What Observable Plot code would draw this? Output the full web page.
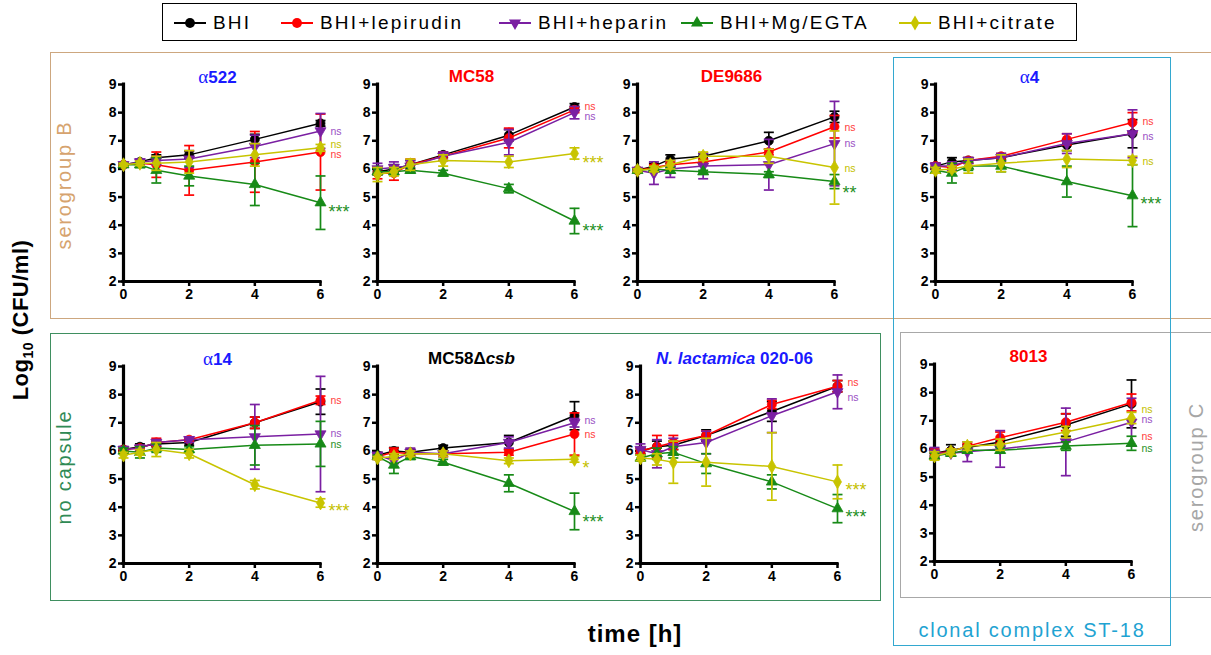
<!DOCTYPE html>
<html><head><meta charset="utf-8">
<script src="https://cdn.jsdelivr.net/npm/d3@7"></script>
<script src="https://cdn.jsdelivr.net/npm/@observablehq/plot@0.6"></script>
<style>
body{margin:0;background:#fff;font-family:"Liberation Sans",Arial,sans-serif;}
#fig{position:relative;width:1211px;height:655px;overflow:hidden;background:#fff;}
.abs{position:absolute;}
.box{position:absolute;box-sizing:border-box;border-style:solid;border-width:1.5px;}
.vlab{position:absolute;white-space:nowrap;font-size:20px;letter-spacing:1.8px;transform:translate(-50%,-50%) rotate(-90deg);}
.ptitle{position:absolute;width:240px;text-align:center;font-size:17px;line-height:17px;font-weight:bold;white-space:nowrap;}
.alpha{font-family:"Liberation Serif","DejaVu Serif",serif;font-weight:normal;font-size:19px;}
.panel{position:absolute;}
.panel svg{overflow:visible;}
.panel g[aria-label="x-axis tick label"] text,.panel g[aria-label="y-axis tick label"] text{font-weight:bold;}
.leg{position:absolute;left:162px;top:3px;width:915px;height:38px;box-sizing:border-box;border:1.5px solid #000;}
.legitem{position:absolute;top:0;height:35px;display:flex;align-items:center;font-size:19px;letter-spacing:2.2px;white-space:nowrap;}
</style></head><body><div id="fig"></div>
<script>
// ---------- data ----------
const times = [0, 0.5, 1, 2, 4, 6];
const seriesNames = ["BHI", "BHI+lepirudin", "BHI+heparin", "BHI+Mg/EGTA", "BHI+citrate"];
const seriesColors = ["#000000", "#ff0000", "#7a1fa2", "#178a17", "#c8c400"];
const sigColors = ["#000000", "#ff4040", "#9a50c4", "#1f8f1f", "#c4c000"];
const xTicks = [0, 2, 4, 6];
const yTicks = [2, 3, 4, 5, 6, 7, 8, 9];
const panelTitles = ["α522", "MC58", "DE9686", "α4", "α14", "MC58Δcsb", "N. lactamica 020-06", "8013"];
const titleColors = ["#1a1aff", "#ff0000", "#ff0000", "#1a1aff", "#1a1aff", "#000000", "#1a1aff", "#ff0000"];

const a522Mean = [[6.15, 6.25, 6.4, 6.5, 7.05, 7.62], [6.15, 6.2, 6.15, 5.95, 6.25, 6.6], [6.15, 6.25, 6.3, 6.35, 6.8, 7.35], [6.15, 6.15, 5.95, 5.75, 5.45, 4.8], [6.15, 6.2, 6.2, 6.25, 6.5, 6.75]];
const a522Sd = [[0.05, 0.08, 0.1, 0.12, 0.18, 0.1], [0.05, 0.08, 0.45, 0.88, 1.08, 1.35], [0.08, 0.1, 0.15, 0.3, 0.4, 0.62], [0.05, 0.1, 0.45, 0.35, 0.75, 0.95], [0.05, 0.08, 0.25, 0.4, 0.4, 0.12]];
const a522Sig = ["", "ns", "ns", "***", "ns"];
const a522SigAt = [null, 6.51, 7.33, 4.64, 6.86];

const mc58Mean = [[5.9, 6.0, 6.15, 6.5, 7.2, 8.2], [5.85, 5.85, 6.15, 6.45, 7.1, 8.1], [6.0, 6.05, 6.1, 6.45, 6.95, 8.0], [5.9, 5.9, 5.95, 5.85, 5.3, 4.15], [5.8, 5.9, 6.15, 6.3, 6.25, 6.55]];
const mc58Sd = [[0.1, 0.15, 0.15, 0.1, 0.2, 0.12], [0.2, 0.25, 0.2, 0.15, 0.35, 0.1], [0.2, 0.2, 0.2, 0.15, 0.45, 0.22], [0.1, 0.1, 0.1, 0.1, 0.15, 0.45], [0.25, 0.15, 0.2, 0.2, 0.2, 0.2]];
const mc58Sig = ["", "ns", "ns", "***", "***"];
const mc58SigAt = [null, 8.23, 7.87, 3.95, 6.38];

const de9686Mean = [[5.95, 6.1, 6.35, 6.45, 7.0, 7.85], [5.95, 6.05, 6.15, 6.25, 6.6, 7.5], [5.95, 5.85, 6.0, 6.1, 6.15, 6.9], [5.95, 6.0, 5.95, 5.9, 5.8, 5.55], [5.95, 6.0, 6.15, 6.45, 6.45, 6.05]];
const de9686Sd = [[0.05, 0.1, 0.15, 0.1, 0.3, 0.2], [0.05, 0.1, 0.1, 0.1, 0.1, 0.4], [0.05, 0.4, 0.3, 0.45, 0.9, 1.5], [0.05, 0.05, 0.1, 0.05, 0.1, 0.25], [0.05, 0.1, 0.15, 0.15, 0.25, 1.3]];
const de9686Sig = ["", "ns", "ns", "**", "ns"];
const de9686SigAt = [null, 7.48, 6.9, 5.33, 6.0];

const a4Mean = [[6.1, 6.25, 6.3, 6.4, 6.85, 7.25], [6.1, 6.05, 6.3, 6.45, 7.05, 7.65], [6.1, 6.1, 6.3, 6.4, 6.9, 7.25], [5.95, 5.85, 6.1, 6.1, 5.55, 5.05], [5.95, 6.0, 6.1, 6.2, 6.35, 6.3]];
const a4Sd = [[0.1, 0.15, 0.1, 0.1, 0.2, 0.5], [0.1, 0.1, 0.1, 0.1, 0.2, 0.35], [0.1, 0.15, 0.1, 0.15, 0.35, 0.85], [0.1, 0.35, 0.15, 0.2, 0.55, 1.1], [0.1, 0.1, 0.25, 0.3, 0.3, 0.15]];
const a4Sig = ["", "ns", "ns", "***", "ns"];
const a4SigAt = [null, 7.68, 7.14, 4.93, 6.25];

const a14Mean = [[6.05, 6.15, 6.25, 6.3, 7.0, 7.75], [6.05, 6.1, 6.3, 6.4, 7.0, 7.8], [6.05, 6.1, 6.3, 6.4, 6.5, 6.6], [6.0, 5.95, 6.1, 6.05, 6.2, 6.25], [5.85, 5.95, 6.05, 5.9, 4.8, 4.15]];
const a14Sd = [[0.1, 0.1, 0.1, 0.1, 0.2, 0.45], [0.05, 0.1, 0.15, 0.05, 0.2, 0.15], [0.1, 0.1, 0.1, 0.1, 1.15, 2.05], [0.1, 0.2, 0.15, 0.1, 0.7, 0.8], [0.1, 0.1, 0.25, 0.15, 0.15, 0.15]];
const a14Sig = ["", "ns", "ns", "ns", "***"];
const a14SigAt = [null, 7.8, 6.63, 6.24, 4.05];

const csbMean = [[5.85, 6.0, 5.95, 6.1, 6.3, 7.25], [5.8, 5.95, 5.9, 5.9, 5.95, 6.6], [5.85, 5.65, 5.95, 5.9, 6.3, 7.0], [5.8, 5.5, 5.8, 5.6, 4.85, 3.85], [5.75, 5.8, 5.9, 5.9, 5.65, 5.7]];
const csbSd = [[0.1, 0.12, 0.1, 0.1, 0.25, 0.5], [0.1, 0.15, 0.1, 0.1, 0.1, 0.75], [0.05, 0.1, 0.15, 0.1, 0.2, 0.15], [0.05, 0.3, 0.1, 0.1, 0.3, 0.65], [0.05, 0.1, 0.1, 0.1, 0.1, 0.1]];
const csbSig = ["", "ns", "ns", "***", "*"];
const csbSigAt = [null, 6.59, 7.07, 3.66, 5.56];

const nlacMean = [[6.0, 6.15, 6.2, 6.55, 7.4, 8.3], [6.0, 6.15, 6.3, 6.55, 7.65, 8.3], [6.05, 5.9, 6.15, 6.3, 7.25, 8.1], [5.75, 5.9, 5.95, 5.55, 4.9, 3.95], [5.75, 5.7, 5.6, 5.6, 5.45, 4.9]];
const nlacSd = [[0.1, 0.2, 0.15, 0.2, 0.35, 0.2], [0.1, 0.4, 0.25, 0.15, 0.15, 0.2], [0.2, 0.5, 0.3, 0.4, 0.6, 0.6], [0.1, 0.2, 0.2, 0.35, 0.25, 0.5], [0.1, 0.2, 0.75, 0.85, 1.2, 0.6]];
const nlacSig = ["", "ns", "ns", "***", "***"];
const nlacSigAt = [null, 8.41, 7.91, 3.81, 4.78];

const s8013Mean = [[5.85, 5.95, 6.05, 6.25, 6.85, 7.6], [5.85, 5.9, 6.1, 6.4, 6.95, 7.65], [5.85, 5.85, 5.9, 6.0, 6.25, 6.95], [5.75, 5.85, 5.95, 5.95, 6.1, 6.2], [5.75, 5.9, 6.1, 6.15, 6.6, 7.1]];
const s8013Sd = [[0.1, 0.2, 0.1, 0.1, 0.4, 0.85], [0.15, 0.1, 0.1, 0.2, 0.3, 0.3], [0.2, 0.1, 0.35, 0.65, 1.2, 0.85], [0.1, 0.1, 0.1, 0.1, 0.15, 0.25], [0.15, 0.1, 0.15, 0.2, 0.2, 0.2]];
const s8013Sig = ["", "ns", "ns", "ns", "ns"];
const s8013SigAt = [null, 6.44, 7.05, 6.01, 7.4];

// ---------- layout ----------
const panels = [
  {mean: a522Mean, sd: a522Sd, sig: a522Sig, at: a522SigAt, x0: 123, y0: 84},
  {mean: mc58Mean, sd: mc58Sd, sig: mc58Sig, at: mc58SigAt, x0: 377, y0: 84},
  {mean: de9686Mean, sd: de9686Sd, sig: de9686Sig, at: de9686SigAt, x0: 637, y0: 84},
  {mean: a4Mean, sd: a4Sd, sig: a4Sig, at: a4SigAt, x0: 935, y0: 84},
  {mean: a14Mean, sd: a14Sd, sig: a14Sig, at: a14SigAt, x0: 123, y0: 366},
  {mean: csbMean, sd: csbSd, sig: csbSig, at: csbSigAt, x0: 377, y0: 366},
  {mean: nlacMean, sd: nlacSd, sig: nlacSig, at: nlacSigAt, x0: 640, y0: 366},
  {mean: s8013Mean, sd: s8013Sd, sig: s8013Sig, at: s8013SigAt, x0: 934, y0: 364}
];
const PW = 197, PH = 197, ML = 35, MR = 60, MT = 8, MB = 30;

const capSym = {draw(ctx, size) { const r = Math.sqrt(size / Math.PI); ctx.moveTo(-r, 0); ctx.lineTo(r, 0); }};
const triDown = {draw(ctx, size) {
  const y = -Math.sqrt(size / (Math.sqrt(3) * 3));
  ctx.moveTo(0, -2 * y); ctx.lineTo(-Math.sqrt(3) * y, y); ctx.lineTo(Math.sqrt(3) * y, y); ctx.closePath(); }};
const seriesSymbols = [d3.symbolCircle, d3.symbolCircle, triDown, d3.symbolTriangle, d3.symbolDiamond];
const seriesR = [4.5, 4.5, 4.1, 4.1, 4.2];

const fig = document.getElementById("fig");
function add(html) { fig.insertAdjacentHTML("beforeend", html); }

// boxes
add(`<div class="box" style="left:50px;top:52px;width:1170px;height:267px;border-color:#cda77f;"></div>`);
add(`<div class="box" style="left:50px;top:333px;width:831px;height:268px;border-color:#3f8f60;"></div>`);
add(`<div class="box" style="left:900px;top:332px;width:320px;height:266px;border-color:#a8a8a8;"></div>`);
add(`<div class="box" style="left:893px;top:57px;width:278px;height:589px;border-color:#33a8d0;"></div>`);

// group labels
add(`<div class="vlab" style="left:64px;top:185px;color:#d6a36e;">serogroup B</div>`);
add(`<div class="vlab" style="left:64px;top:467px;color:#2f8a55;">no capsule</div>`);
add(`<div class="vlab" style="left:1196px;top:467px;color:#a6a6a6;">serogroup C</div>`);
add(`<div class="abs" style="left:893px;width:278px;top:619px;text-align:center;font-size:20px;letter-spacing:1.8px;color:#1fa3d2;white-space:nowrap;">clonal complex ST-18</div>`);
add(`<div class="vlab" style="left:22px;top:320px;font-size:22px;font-weight:bold;letter-spacing:0.5px;color:#000;">Log<sub style="font-size:14px;">10</sub> (CFU/ml)</div>`);
add(`<div class="abs" style="left:535px;width:200px;top:620px;text-align:center;font-size:24px;font-weight:bold;letter-spacing:1px;">time [h]</div>`);

// legend
const legCenters = [190, 297, 515, 697, 915];
add(`<div class="leg"></div>`);
seriesNames.forEach((name, i) => {
  const sym = d3.symbol(seriesSymbols[i], Math.PI * seriesR[i] * seriesR[i] * 1.2)();
  add(`<div class="legitem" style="left:${legCenters[i] - 17}px;top:5px;">
    <svg width="34" height="20" style="margin-right:6px;overflow:visible"><line x1="1" x2="33" y1="10" y2="10" stroke="${seriesColors[i]}" stroke-width="2"/>
    <path d="${sym}" transform="translate(17,10)" fill="${seriesColors[i]}"/></svg><span>${name}</span></div>`);
});

function titleHTML(t) {
  if (t.startsWith("α")) return `<span class="alpha">α</span>${t.slice(1)}`;
  if (t.includes("Δ")) { const [a, b] = t.split("Δ"); return `${a}Δ<i>${b}</i>`; }
  if (t.startsWith("N. lactamica")) return `<i>N. lactamica</i>${t.slice(12)}`;
  return t;
}

panels.forEach((p, k) => {
  const rows = [];
  p.mean.forEach((ms, s) => ms.forEach((m, i) => {
    const sd = p.sd[s][i];
    rows.push({s, t: times[i], m, lo: m - sd, hi: m + sd});
  }));
  const sigRows = p.sig.map((label, s) => ({s, label, at: p.at[s]})).filter(d => d.label);
  const marks = [
    Plot.axisX({ticks: xTicks, tickSize: 5, tickPadding: 3, strokeWidth: 2.5, fontSize: 14, fontWeight: "bold", label: null, tickFormat: d => String(d)}),
    Plot.axisY({ticks: yTicks, tickSize: 5, tickPadding: 2, strokeWidth: 2.5, fontSize: 14, fontWeight: "bold", label: null, tickFormat: d => String(d)}),
    Plot.ruleX([0], {y1: 2, y2: 9, stroke: "#000", strokeWidth: 3.2, strokeLinecap: "square"}),
    Plot.ruleY([2], {x1: 0, x2: 6, stroke: "#000", strokeWidth: 3.2, strokeLinecap: "square"})
  ];
  seriesNames.forEach((name, s) => {
    const d = rows.filter(r => r.s === s);
    const c = seriesColors[s];
    marks.push(
      Plot.ruleX(d, {x: "t", y1: "lo", y2: "hi", stroke: c, strokeWidth: 1.7}),
      Plot.dot(d, {x: "t", y: "lo", symbol: capSym, r: 5, stroke: c, fill: "none", strokeWidth: 1.7}),
      Plot.dot(d, {x: "t", y: "hi", symbol: capSym, r: 5, stroke: c, fill: "none", strokeWidth: 1.7}),
      Plot.line(d, {x: "t", y: "m", stroke: c, strokeWidth: 1.5}),
      Plot.dot(d, {x: "t", y: "m", symbol: seriesSymbols[s], r: seriesR[s], fill: c, stroke: c, strokeWidth: 0.8})
    );
  });
  const nsRows = sigRows.filter(d => d.label === "ns");
  const starRows = sigRows.filter(d => d.label !== "ns");
  marks.push(
    Plot.text(nsRows, {x: () => 6, y: "at", text: "label", fill: d => sigColors[d.s], dx: 10, textAnchor: "start", fontSize: 10.5, fontFamily: "Liberation Sans, Arial, sans-serif"}),
    Plot.text(starRows, {x: () => 6, y: "at", text: "label", fill: d => sigColors[d.s], dx: 8, dy: 5, textAnchor: "start", fontSize: 18, fontFamily: "Liberation Sans, Arial, sans-serif"})
  );
  const chart = Plot.plot({
    width: ML + PW + MR, height: MT + PH + MB,
    marginLeft: ML, marginRight: MR, marginTop: MT, marginBottom: MB,
    x: {domain: [0, 6], axis: null},
    y: {domain: [2, 9], axis: null},
    style: {background: "transparent", fontFamily: "Liberation Sans, Arial, sans-serif", color: "#000", overflow: "visible"},
    marks
  });
  const div = document.createElement("div");
  div.className = "panel";
  div.style.left = (p.x0 - ML) + "px";
  div.style.top = (p.y0 - MT) + "px";
  div.appendChild(chart);
  fig.appendChild(div);
  add(`<div class="ptitle" style="left:${p.x0 + PW / 2 - 4 - 120}px;top:${p.y0 - 16}px;color:${titleColors[k]};">${titleHTML(panelTitles[k])}</div>`);
});
</script></body></html>
